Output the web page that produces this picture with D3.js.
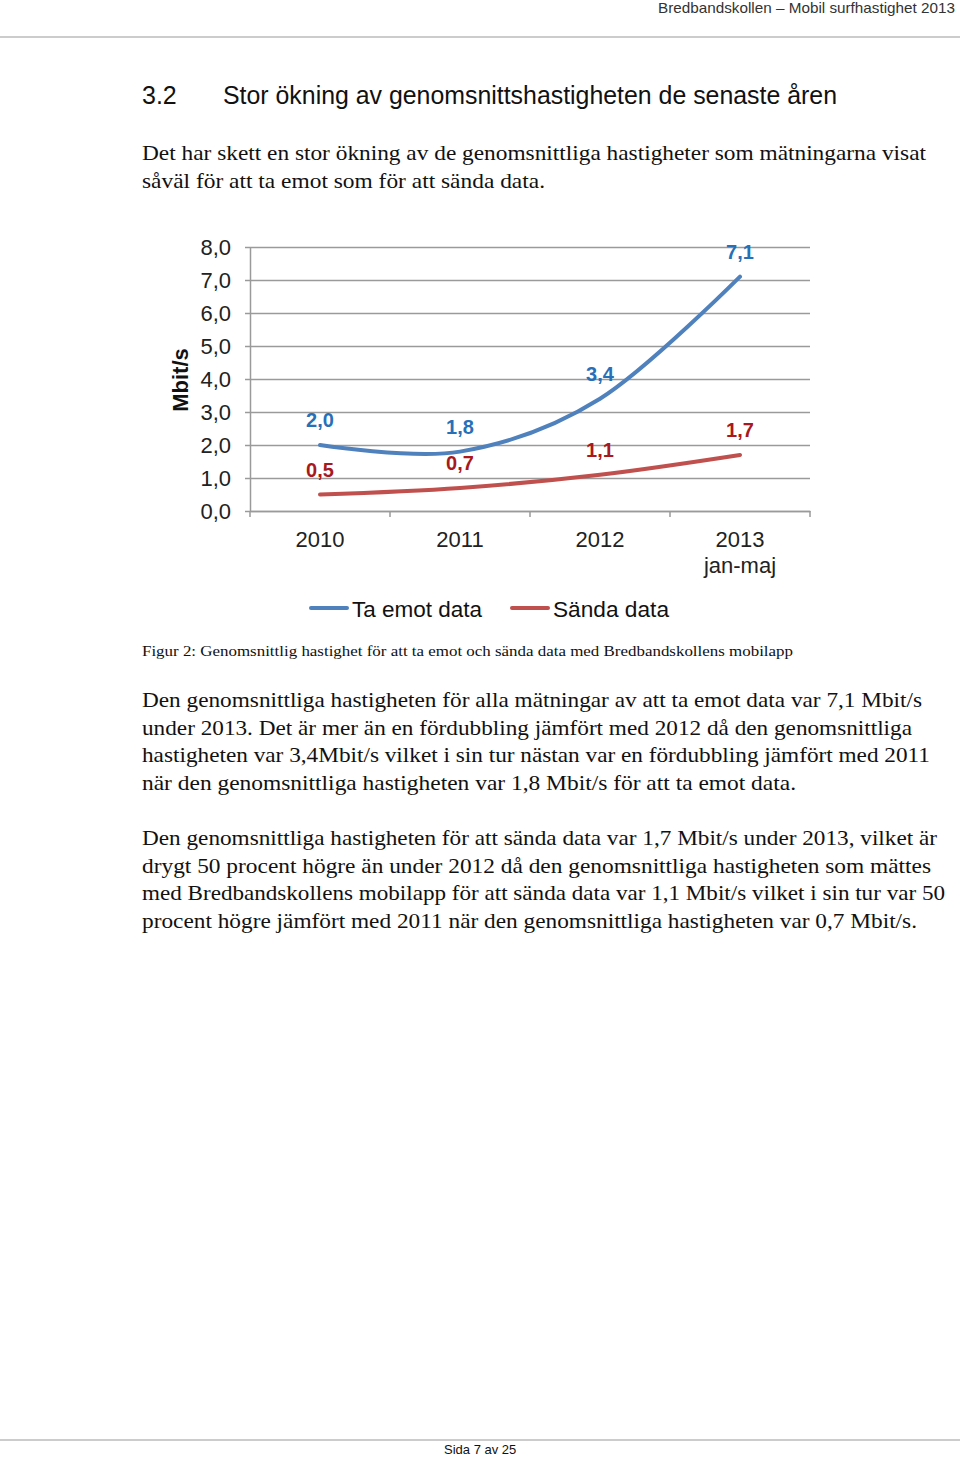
<!DOCTYPE html>
<html><head><meta charset="utf-8">
<script src="https://cdn.jsdelivr.net/npm/d3@7/dist/d3.min.js"></script>
<style>
html,body{margin:0;padding:0;background:#fff;}
svg{display:block;}
</style></head>
<body>
<svg id="page" width="960" height="1457"></svg>
<script>
// ---- data ----
const categories = ["2010", "2011", "2012", "2013\njan-maj"];
const taEmot = [2.0, 1.8, 3.4, 7.1];
const sanda = [0.5, 0.7, 1.1, 1.7];
const yTicks = [0, 1, 2, 3, 4, 5, 6, 7, 8];
const seriesNames = ["Ta emot data", "Sända data"];

const headerText = "Bredbandskollen – Mobil surfhastighet 2013";
const headingNum = "3.2";
const headingText = "Stor ökning av genomsnittshastigheten de senaste åren";
const introLines = [
  "Det har skett en stor ökning av de genomsnittliga hastigheter som mätningarna visat",
  "såväl för att ta emot som för att sända data."
];
const captionText = "Figur 2: Genomsnittlig hastighet för att ta emot och sända data med Bredbandskollens mobilapp";
const para1 = [
  "Den genomsnittliga hastigheten för alla mätningar av att ta emot data var 7,1 Mbit/s",
  "under 2013. Det är mer än en fördubbling jämfört med 2012 då den genomsnittliga",
  "hastigheten var 3,4Mbit/s vilket i sin tur nästan var en fördubbling jämfört med 2011",
  "när den genomsnittliga hastigheten var 1,8 Mbit/s för att ta emot data."
];
const para2 = [
  "Den genomsnittliga hastigheten för att sända data var 1,7 Mbit/s under 2013, vilket är",
  "drygt 50 procent högre än under 2012 då den genomsnittliga hastigheten som mättes",
  "med Bredbandskollens mobilapp för att sända data var 1,1 Mbit/s vilket i sin tur var 50",
  "procent högre jämfört med 2011 när den genomsnittliga hastigheten var 0,7 Mbit/s."
];
const footerText = "Sida 7 av 25";

// ---- page ----
const svg = d3.select("#page");
const sans = "Liberation Sans, Arial, sans-serif";
const serif = "Liberation Serif, Georgia, serif";

svg.append("text").attr("x", 955).attr("y", 13).attr("text-anchor", "end")
  .attr("font-family", sans).attr("font-size", 15).attr("fill", "#333")
  .attr("textLength", 297).attr("lengthAdjust", "spacingAndGlyphs").text(headerText);
svg.append("line").attr("x1", 0).attr("x2", 960).attr("y1", 37).attr("y2", 37)
  .attr("stroke", "#999").attr("stroke-width", 1.2);

svg.append("text").attr("x", 142).attr("y", 104).attr("font-family", sans)
  .attr("font-size", 25).attr("fill", "#111").text(headingNum);
svg.append("text").attr("x", 223).attr("y", 104).attr("font-family", sans)
  .attr("font-size", 25).attr("fill", "#111")
  .attr("textLength", 614).attr("lengthAdjust", "spacingAndGlyphs").text(headingText);

function bodyLines(lines, y0, dy, widths, size) {
  lines.forEach((t, i) => {
    const el = svg.append("text").attr("x", 142).attr("y", y0 + i * dy)
      .attr("font-family", serif).attr("font-size", size).attr("fill", "#111").text(t);
    if (widths && widths[i]) el.attr("textLength", widths[i]).attr("lengthAdjust", "spacingAndGlyphs");
  });
}
bodyLines(introLines, 160, 28, [784, 403], 21);
svg.append("text").attr("x", 142).attr("y", 656).attr("font-family", serif)
  .attr("font-size", 15).attr("fill", "#111").attr("textLength", 651)
  .attr("lengthAdjust", "spacingAndGlyphs").text(captionText);
bodyLines(para1, 707, 27.7, [780, 770, 788, 654], 21);
bodyLines(para2, 845, 27.7, [795, 789, 803, 775], 21);

svg.append("line").attr("x1", 0).attr("x2", 960).attr("y1", 1440).attr("y2", 1440)
  .attr("stroke", "#999").attr("stroke-width", 1.2);
svg.append("text").attr("x", 444).attr("y", 1454).attr("font-family", sans)
  .attr("font-size", 13).attr("fill", "#111").text(footerText);

// ---- chart ----
const x = d3.scaleBand().domain(categories).range([250, 810]);
const y = d3.scaleLinear().domain([0, 8]).range([511, 247]);
const cx = c => x(c) + x.bandwidth() / 2;
const fmt = v => d3.format(".1f")(v).replace(".", ",");
const chart = svg.append("g");
const gridCol = "#9a9a9a";

// gridlines + y axis
const yAxis = chart.append("g").attr("transform", "translate(250,0)")
  .call(d3.axisLeft(y).tickValues(yTicks).tickFormat(fmt).tickSizeInner(-560).tickSizeOuter(0).tickPadding(19));
yAxis.select(".domain").attr("stroke", gridCol).attr("stroke-width", 1.5);
yAxis.selectAll(".tick line").attr("stroke", gridCol).attr("stroke-width", 1.5).attr("x1", -5);
yAxis.selectAll(".tick text").attr("font-family", sans).attr("font-size", 22).attr("fill", "#222");

// x axis
const xAxis = chart.append("g").attr("transform", "translate(0,511)")
  .call(d3.axisBottom(x).tickSize(0).tickPadding(0).tickFormat(""));
xAxis.select(".domain").attr("stroke", gridCol).attr("stroke-width", 1.5);
const bounds = categories.map(c => x(c)).concat([x.range()[1]]);
chart.selectAll(".xb").data(bounds).join("line")
  .attr("x1", d => d).attr("x2", d => d).attr("y1", 511).attr("y2", 517)
  .attr("stroke", gridCol).attr("stroke-width", 1.5);
xAxis.selectAll(".tick").each(function(d) {
  const t = d3.select(this).append("text").attr("fill", "#222").attr("font-family", sans)
    .attr("font-size", 22).attr("text-anchor", "middle");
  d.split("\n").forEach((s, i) => t.append("tspan").attr("x", 0).attr("y", 36 + i * 26).text(s));
});

// lines
const line = d3.line().x((d, i) => cx(categories[i])).y(d => y(d)).curve(d3.curveCatmullRom.alpha(0));
chart.append("path").datum(sanda).attr("d", line).attr("fill", "none")
  .attr("stroke", "#c0504d").attr("stroke-width", 4).attr("stroke-linecap", "round");
chart.append("path").datum(taEmot).attr("d", line).attr("fill", "none")
  .attr("stroke", "#4f81bd").attr("stroke-width", 4).attr("stroke-linecap", "round");

// data labels
function labels(data, color) {
  chart.selectAll(null).data(data).join("text")
    .attr("x", (d, i) => cx(categories[i])).attr("y", d => y(d) - 25)
    .attr("dy", "0.35em").attr("text-anchor", "middle")
    .attr("font-family", sans).attr("font-weight", "bold").attr("font-size", 20)
    .attr("fill", color).text(fmt);
}
labels(taEmot, "#2770b8");
labels(sanda, "#a8181d");

// y title
chart.append("text").attr("transform", "translate(188,380) rotate(-90)")
  .attr("text-anchor", "middle").attr("font-family", sans).attr("font-weight", "bold")
  .attr("font-size", 22).attr("fill", "#111").text("Mbit/s");

// legend
const leg = chart.append("g");
const legItems = [{n: seriesNames[0], c: "#4f81bd", x: 311, w: 130}, {n: seriesNames[1], c: "#c0504d", x: 512, w: 116}];
leg.selectAll("line").data(legItems).join("line")
  .attr("x1", d => d.x).attr("x2", d => d.x + 36).attr("y1", 608).attr("y2", 608)
  .attr("stroke", d => d.c).attr("stroke-width", 4).attr("stroke-linecap", "round");
leg.selectAll("text").data(legItems).join("text")
  .attr("x", d => d.x + 41).attr("y", 617).attr("font-family", sans).attr("font-size", 22)
  .attr("textLength", d => d.w).attr("lengthAdjust", "spacingAndGlyphs")
  .attr("fill", "#111").text(d => d.n);
</script>
</body></html>
